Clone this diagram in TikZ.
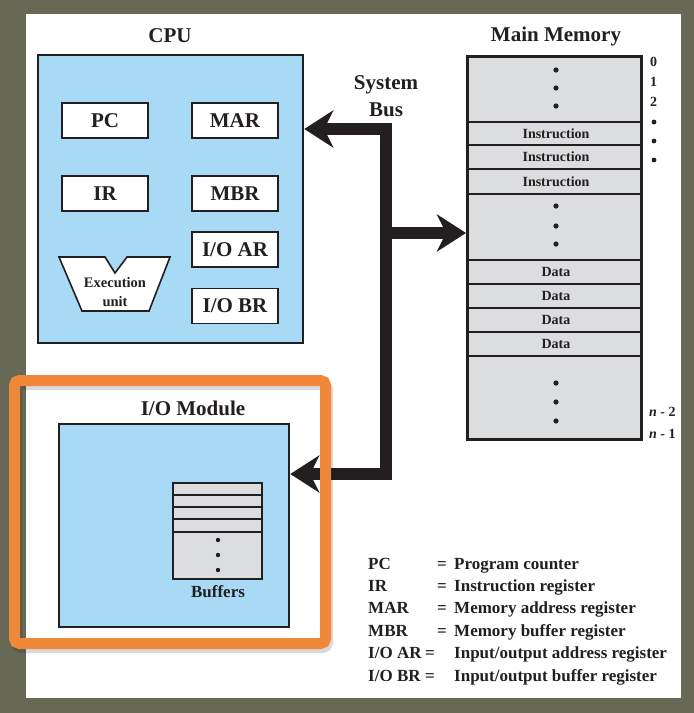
\documentclass[tikz,border=0pt]{standalone}
\usepackage{fontspec}
\setmainfont{Liberation Serif}
\usetikzlibrary{arrows.meta}
\definecolor{busInk}{HTML}{231F20}
\definecolor{busBlue}{HTML}{A8DAF5}
\definecolor{busGray}{HTML}{DCDDDF}
\definecolor{busOlive}{HTML}{686955}
\definecolor{busOrange}{HTML}{F0883A}
\tikzset{
  bus unit/.style={draw=busInk, line width=2.5pt, fill=busBlue, inner sep=0pt},
  bus reg/.style={draw=busInk, line width=1.6pt, fill=white, minimum width=86pt, minimum height=35pt, inner sep=0pt, font=\fontsize{21}{24}\selectfont\bfseries, text=busInk},
  bus title/.style={font=\fontsize{21}{27}\selectfont\bfseries, text=busInk},
  bus cell/.style={font=\fontsize{14}{16}\selectfont\bfseries, text=busInk},
  bus rule/.style={draw=busInk, line width=2.4pt},
  bus line/.style={draw=busInk, line width=12pt, line join=miter},
  bus tip/.tip={Stealth[length=29pt, width=37pt, inset=9pt]},
  bus legend/.style={font=\fontsize{17}{20}\selectfont\bfseries, text=busInk, anchor=base west, inner sep=0pt},
}

\begin{document}
\begin{tikzpicture}[x=1pt,y=-1pt]
  % page and panel
  \fill[busOlive] (0,0) rectangle (694,713);
  \fill[white] (26,14) rectangle (681,698);
  \useasboundingbox (0,0) rectangle (694,713);

  % CPU
  \node[bus title] (cputitle) at (170,36) {CPU};
  \node[bus unit, minimum width=265pt, minimum height=288pt] (cpu) at (170.5,199) {};
  \node[bus reg] (pc) at (105,120.5) {PC};
  \node[bus reg] (mar) at (235,120.5) {MAR};
  \node[bus reg] (ir) at (105,193.5) {IR};
  \node[bus reg] (mbr) at (235,193.5) {MBR};
  \node[bus reg] (ioar) at (235,249.5) {I/O AR};
  \node[bus reg] (iobr) at (235,306) {I/O BR};
  \draw[busInk, line width=1.6pt, fill=white] (59,257) -- (105,257) -- (115,273) -- (127,257)
    -- (170,257) -- (149,311) -- (82,311) -- cycle;
  \node[bus cell, align=center, font=\fontsize{14.5}{19}\selectfont\bfseries] (exec) at (115,292) {Execution\\unit};

  % main memory
  \node[bus title] (memtitle) at (556,36) {Main Memory};
  \node[draw=busInk, line width=3pt, fill=busGray, minimum width=174pt, minimum height=383pt, inner sep=0pt] (mem) at (554.5,248) {};
  \foreach \y in {122,145,169,194,260,284,308,332,356}
    \draw[bus rule] (mem.west |- 0,\y) -- (mem.east |- 0,\y);
  \foreach \y [count=\i] in {133.5,157,181.5}
    \node[bus cell] (instr\i) at (556,\y) {Instruction};
  \foreach \y [count=\i] in {272,296,320,344}
    \node[bus cell] (data\i) at (556,\y) {Data};
  \foreach \y in {70,88,106,206,226,244,383,402,421}
    \fill[busInk] (556,\y) circle (2.6pt);
  \foreach \y/\t [count=\i] in {62/0,82/1,102/2}
    \node[bus cell, anchor=west, inner sep=0pt] (addr\i) at (650,\y) {\t};
  \foreach \y in {122,141,160}
    \fill[busInk] (654,\y) circle (2.4pt);
  \node[bus cell, anchor=west, inner sep=0pt] (addrA) at (649,412) {\textit{n} - 2};
  \node[bus cell, anchor=west, inner sep=0pt] (addrB) at (649,434) {\textit{n} - 1};

  % system bus
  \node[bus title, align=center] (buslabel) at (386,96) {System\\Bus};
  \coordinate (bustop) at (386,129);
  \coordinate (busmid) at (386,233);
  \coordinate (busbot) at (386,474);

  % I/O module
  \node[bus title] (iotitle) at (193,408) {I/O Module};
  \node[bus unit, minimum width=230pt, minimum height=203pt] (io) at (174,525.5) {};
  \draw[busInk, line width=1.4pt, fill=busGray] (173,483) rectangle (262,579);
  \foreach \y in {495,507,519,532}
    \draw[busInk, line width=1.4pt] (173,\y) -- (262,\y);
  \foreach \y in {540,555,570}
    \fill[busInk] (218,\y) circle (2.2pt);
  \node[font=\fontsize{17}{20}\selectfont\bfseries, text=busInk] (buflabel) at (218,592) {Buffers};

  \draw[bus line, -bus tip] (busmid) -- (busmid -| mem.west);
  \draw[bus line, bus tip-bus tip] (bustop -| cpu.east) -- (bustop) -- (busbot) -- (busbot -| io.east);

  % highlight frame
  \draw[black, opacity=0.15, line width=11pt, rounded corners=5pt] (16.5,384.5) rectangle (327.5,647.5);
  \draw[busOrange, line width=11pt, rounded corners=5pt] (14.5,380.5) rectangle (325.5,643.5);

  % legend
  \foreach \abbr/\eqx/\desc [count=\i] in {PC/437/Program counter, IR/437/Instruction register,
      MAR/437/Memory address register, MBR/437/Memory buffer register,
      {I/O AR}/425/{Input/output address register}, {I/O BR}/425/{Input/output buffer register}} {
    \node[bus legend] (legabbr\i) at (368,{569+22.4*(\i-1)}) {\abbr};
    \node[bus legend] (legeq\i) at (\eqx,{569+22.4*(\i-1)}) {=};
    \node[bus legend] (legdesc\i) at (454,{569+22.4*(\i-1)}) {\desc};
  }
\end{tikzpicture}
\end{document}
